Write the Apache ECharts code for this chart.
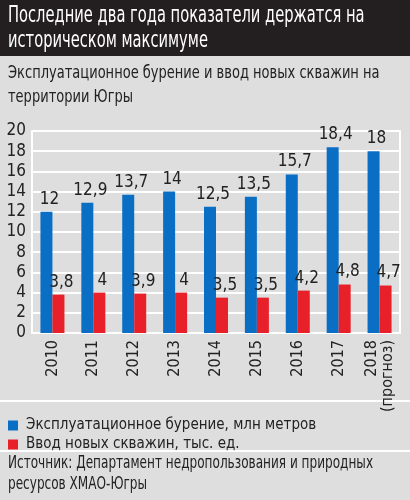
<!DOCTYPE html>
<html>
<head>
<meta charset="utf-8">
<script src="https://cdn.jsdelivr.net/npm/echarts@6/dist/echarts.min.js"></script>
<style>
  html, body { margin: 0; padding: 0; background: #dedede; }
  #chart { width: 410px; height: 500px; }
</style>
</head>
<body>
<div id="chart"></div>
<script>
var years = ['2010', '2011', '2012', '2013', '2014', '2015', '2016', '2017', '2018\n(прогноз)'];
var drilling = [12, 12.9, 13.7, 14, 12.5, 13.5, 15.7, 18.4, 18];
var newWells = [3.8, 4, 3.9, 4, 3.5, 3.5, 4.2, 4.8, 4.7];
var seriesNames = ['Эксплуатационное бурение, млн метров', 'Ввод новых скважин, тыс. ед.'];

var FONT = '"DejaVu Sans Condensed", "Noto Sans", sans-serif';

var chart = echarts.init(document.getElementById('chart'));

/*подпись над столбцом с запятой*/
function commaLabel(p) {
    return String(p.value).replace('.', ',');
}

/*узкий текст: кондензед-шрифта нет, поэтому сжимаем по горизонтали*/
function narrowText(text, x, y, size, lineH, sx, color) {
    return {
        type: 'text',
        x: x, y: y,
        scaleX: sx,
        style: {
            text: text,
            fill: color,
            font: 'normal ' + size + 'px ' + FONT,
            lineHeight: lineH
        }
    };
}

function barSeries(name, data, color) {
    return {
        name: name,
        type: 'bar',
        data: data,
        barWidth: 12,
        barGap: '0%',
        itemStyle: { color: color },
        label: {
            show: true,
            position: 'top',
            distance: 4,
            offset: [3, 0],
            fontFamily: FONT,
            fontSize: 17,
            color: '#222',
            formatter: commaLabel
        }
    };
}

var option = {
    backgroundColor: '#dedede',
    animation: false,
    textStyle: { fontFamily: FONT },
    graphic: [
        { type: 'rect', shape: { x: 0, y: 0, width: 410, height: 56 }, style: { fill: '#231f20' }, z: -1 },
        narrowText('Последние два года показатели держатся на\nисторическом максимуме', 8, 4, 23, 25, 0.71, '#fff'),
        narrowText('Эксплуатационное бурение и ввод новых скважин на\nтерритории Югры', 8, 61, 18, 24, 0.805, '#222'),
        narrowText('Источник: Департамент недропользования и природных\nресурсов ХМАО-Югры', 8, 453, 17, 21, 0.79, '#222'),
        { type: 'line', shape: { x1: 0, y1: 401, x2: 410, y2: 401 }, style: { stroke: '#fff', lineWidth: 2 } },
        { type: 'line', shape: { x1: 0, y1: 451, x2: 410, y2: 451 }, style: { stroke: '#fff', lineWidth: 2 } }
    ],
    legend: {
        orient: 'vertical',
        left: 3,
        top: 413,
        itemGap: 4,
        itemWidth: 10,
        itemHeight: 10,
        icon: 'rect',
        data: seriesNames,
        textStyle: { fontFamily: FONT, fontSize: 15, color: '#222', padding: [0, 0, 0, 3] }
    },
    grid: { left: 32, right: 10, top: 131, bottom: 167, containLabel: false },
    xAxis: {
        type: 'category',
        data: years,
        axisLine: { show: true, lineStyle: { color: '#fff', width: 2 } },
        axisTick: { show: false },
        axisLabel: {
            rotate: 90,
            margin: 7,
            fontFamily: FONT,
            fontSize: 16,
            color: '#222',
            lineHeight: 16
        }
    },
    yAxis: [
        {
            type: 'value',
            min: 0, max: 20, interval: 2,
            axisLine: { show: true, lineStyle: { color: '#fff', width: 2 } },
            axisTick: { show: false },
            axisLabel: { fontFamily: FONT, fontSize: 17, color: '#222', margin: 6 },
            splitLine: { lineStyle: { color: '#fff', width: 2 } }
        },
        {
            type: 'value',
            position: 'right',
            min: 0, max: 20, interval: 2,
            axisLine: { show: true, lineStyle: { color: '#fff', width: 2 } },
            axisTick: { show: false },
            axisLabel: { show: false },
            splitLine: { show: false }
        }
    ],
    series: [
        barSeries(seriesNames[0], drilling, '#0a6fc4'),
        barSeries(seriesNames[1], newWells, '#e8202a')
    ]
};

chart.setOption(option);
</script>
</body>
</html>
